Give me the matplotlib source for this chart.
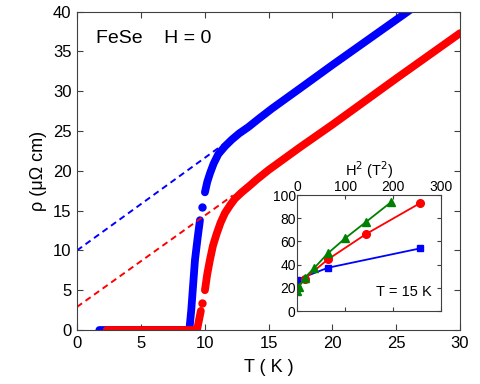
import matplotlib
matplotlib.use('Agg')
import matplotlib.pyplot as plt

plt.rcParams['font.family'] = ['Liberation Sans', 'DejaVu Sans']

# main panel: resistivity vs temperature, H = 0
blue_T = [1.75, 8.8, 8.95, 9.24, 9.45, 9.63]
blue_rho = [0, 0, 2.5, 8.8, 11.6, 13.8]
blue_dot = (9.76, 15.5)
blue_T2 = [10.02, 10.2, 10.42, 10.7, 11.07, 11.6, 12.11, 12.7, 13.42, 14.2, 15.25, 17.46, 20.0, 25.9, 27.0]
blue_rho2 = [17.3, 18.6, 19.7, 20.9, 22.1, 23.1, 23.9, 24.7, 25.5, 26.5, 27.8, 30.35, 33.3, 40.0, 41.3]

red_T = [2.33, 9.4, 9.55, 9.7]
red_rho = [0, 0, 1.2, 2.4]
red_dot = (9.8, 3.4)
red_T2 = [10.02, 10.2, 10.41, 10.65, 10.94, 11.25, 11.59, 12.0, 12.37, 12.9, 13.5, 14.07, 15.0, 17.5, 20.0, 25.0, 30.0]
red_rho2 = [5.0, 7.0, 8.8, 10.6, 12.1, 13.5, 14.7, 15.7, 16.5, 17.3, 18.1, 18.9, 20.1, 23.0, 25.8, 31.6, 37.3]

# linear extrapolations
blue_fit_T = [0, 11.7]
blue_fit_rho = [10.0, 23.6]
red_fit_T = [0, 12.2]
red_fit_rho = [2.9, 16.9]

# inset: rho(15 K) vs H^2
blue_H2 = [0, 64, 256]
blue_in = [27, 37.3, 54]
red_H2 = [0, 16, 64, 144, 256]
red_in = [19.6, 28, 44.5, 66.5, 93]
green_H2 = [0, 4, 16, 36, 64, 100, 144, 196]
green_in = [17.5, 21, 28.7, 37.3, 49.7, 62.7, 77, 94]

BLUE = '#0000ff'
RED = '#ff0000'
GREEN = '#008000'
SPINE = '#404040'

fig = plt.figure(figsize=(4.8, 3.84), dpi=100)
ax = fig.add_axes([0.1604, 0.1406, 0.798, 0.829])

lw = 5.6
ax.plot(blue_T, blue_rho, color=BLUE, lw=lw, solid_capstyle='round', solid_joinstyle='round')
ax.plot(*blue_dot, 'o', color=BLUE, ms=5)
ax.plot(blue_T2, blue_rho2, color=BLUE, lw=lw, solid_capstyle='round', solid_joinstyle='round')
ax.plot(red_T, red_rho, color=RED, lw=lw, solid_capstyle='round', solid_joinstyle='round')
ax.plot(*red_dot, 'o', color=RED, ms=5)
ax.plot(red_T2, red_rho2, color=RED, lw=lw, solid_capstyle='round', solid_joinstyle='round')

ax.plot(blue_fit_T, blue_fit_rho, color=BLUE, lw=1.4, dashes=(3.2, 2.2))
ax.plot(red_fit_T, red_fit_rho, color=RED, lw=1.4, dashes=(3.2, 2.2))

ax.set_xlim(0, 30)
ax.set_ylim(0, 40)
ax.set_xticks(range(0, 31, 5))
ax.set_yticks(range(0, 41, 5))
ax.tick_params(direction='in', top=True, right=True, labelsize=12,
               length=4, width=0.8, color=SPINE, pad=4)
for s in ax.spines.values():
    s.set_color(SPINE)
    s.set_linewidth(0.8)
ax.set_xlabel('T ( K )', fontsize=13, labelpad=6)
ax.set_ylabel('ρ (μΩ cm)', fontsize=13, labelpad=4)
ax.text(1.5, 36.6, 'FeSe    H = 0', fontsize=14, va='center', ha='left')

# inset
ins = fig.add_axes([0.619, 0.19, 0.300, 0.302])
ins.plot(blue_H2, blue_in, '-s', color=BLUE, lw=1.3, ms=5)
ins.plot(red_H2, red_in, '-o', color=RED, lw=1.3, ms=5.5)
ins.plot(green_H2, green_in, '-^', color=GREEN, lw=1.3, ms=5.5)
ins.set_xlim(0, 300)
ins.set_ylim(0, 100)
ins.set_xticks([0, 100, 200, 300])
ins.set_yticks(range(0, 101, 20))
ins.xaxis.tick_top()
ins.xaxis.set_label_position('top')
ins.tick_params(direction='in', top=True, bottom=True, right=True, labelsize=10,
                length=3, width=0.8, color=SPINE, pad=1)
ins.tick_params(axis='x', labelbottom=False, labeltop=True)
for s in ins.spines.values():
    s.set_color(SPINE)
    s.set_linewidth(0.8)
ins.set_xlabel('H$^2$ (T$^2$)', fontsize=10.5, labelpad=3)
ins.text(280, 16.6, 'T = 15 K', fontsize=10.5, ha='right', va='center')

fig.savefig('out.png', dpi=100)
